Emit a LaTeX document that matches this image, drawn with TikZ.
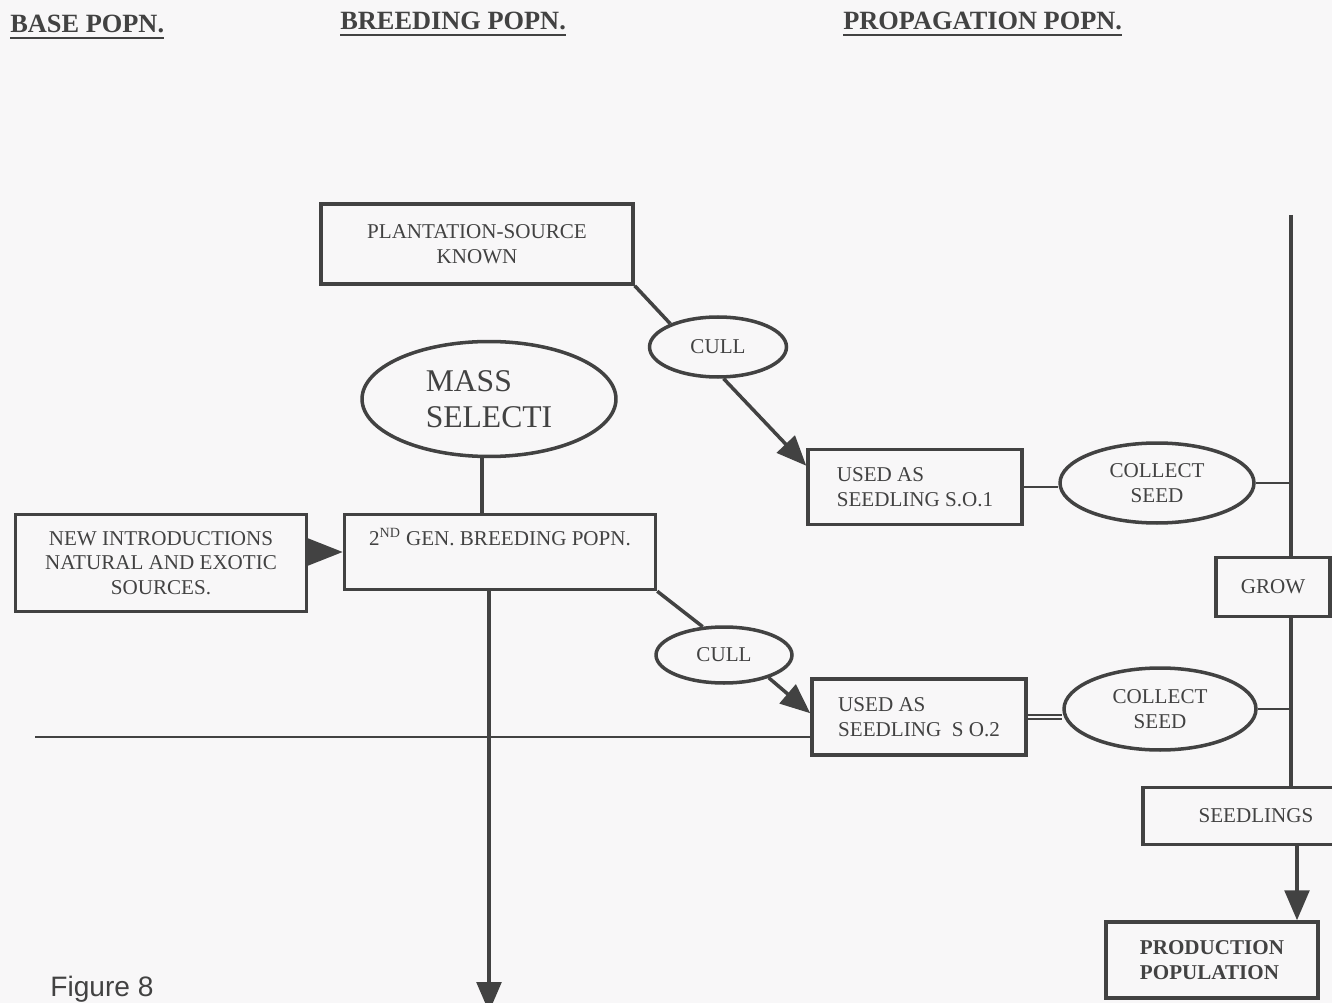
\documentclass[tikz,border=0pt]{standalone}
\usepackage{fontspec}
\setmainfont{Liberation Serif}
\newfontfamily\figfont{Liberation Sans}
\usetikzlibrary{shapes.geometric,arrows.meta,calc}
\definecolor{ink}{HTML}{424242}
\definecolor{paper}{HTML}{F8F7F8}
\tikzset{
  txt/.style={text=ink, font=\fontsize{12}{14}\selectfont},
  box/.style={txt, draw=ink, line width=2pt, rectangle, inner sep=0pt, align=center},
  oval/.style={txt, draw=ink, line width=2pt, ellipse, inner sep=0pt, align=center},
  link/.style={draw=ink, line width=2pt},
  fine link/.style={draw=ink, line width=1pt},
  flow/.style={link, -{Triangle[length=17pt,width=14pt]}},
  bigflow/.style={link, -{Triangle[length=21pt,width=16pt]}},
  heading/.style={inner sep=0pt, anchor=base west, text=ink,
    font=\bfseries\fontsize{15}{17}\selectfont},
  rule/.style={draw=ink, line width=1.2pt},
}
\begin{document}
\begin{tikzpicture}[x=0.02cm,y=-0.02cm]
\fill[paper] (0,0) rectangle (1332,1003);
\clip (0,0) rectangle (1332,1003);

% column headings
\node[heading] (hbase)  at (10,33) {BASE POPN.};
\node[heading] (hbreed) at (340,30) {BREEDING POPN.};
\node[heading] (hprop)  at (843,30) {PROPAGATION POPN.};
\foreach \h in {hbase,hbreed,hprop}
  \draw[rule] ([yshift=-3pt]\h.base west) -- ([yshift=-3pt]\h.base east);

% breeding population
\node[box, minimum width=6.24cm, minimum height=1.6cm] (plant) at (477,244)
  {PLANTATION-SOURCE\\KNOWN};
\node[oval, minimum width=2.74cm, minimum height=1.2cm] (cull1) at (718,347) {CULL};
\node[oval, align=left, minimum width=5.08cm, minimum height=2.3cm,
  font=\fontsize{18}{20.5}\selectfont] (mass) at (489,399) {MASS\\SELECTI};
\node[box, minimum width=6.22cm, minimum height=1.5cm] (gen2) at (500,552) {};
\node[txt, inner sep=0pt] (gen2txt) at (500,537)
  {2\textsuperscript{ND} GEN. BREEDING POPN.};
\node[oval, minimum width=2.72cm, minimum height=1.12cm] (cull2) at (724,655) {CULL};

% base population
\node[box, minimum width=5.82cm, minimum height=1.94cm] (new) at (161,563)
  {NEW INTRODUCTIONS\\NATURAL AND EXOTIC\\SOURCES.};

% propagation population
\node[box, align=left, minimum width=4.28cm, minimum height=1.5cm] (so1) at (915,487)
  {USED AS\\SEEDLING S.O.1};
\node[oval, minimum width=3.88cm, minimum height=1.6cm] (col1) at (1157,483)
  {COLLECT\\SEED};
\node[box, align=left, minimum width=4.28cm, minimum height=1.52cm] (so2) at (919,717)
  {USED AS\\SEEDLING \ S O.2};
\node[oval, minimum width=3.84cm, minimum height=1.64cm] (col2) at (1160,709)
  {COLLECT\\SEED};
\node[box, minimum width=2.28cm, minimum height=1.18cm] (grow) at (1273,587) {GROW};
\node[box, minimum width=4.52cm, minimum height=1.14cm] (seed) at (1256,816) {SEEDLINGS};
\node[box, align=left, minimum width=4.24cm, minimum height=1.52cm,
  font=\bfseries\fontsize{12}{14}\selectfont] (prod) at (1212,960)
  {PRODUCTION\\POPULATION};

\node[inner sep=0pt, anchor=base west, text=ink, font=\figfont\fontsize{16}{18}\selectfont]
  (fig) at (50,996) {Figure 8};

% free ends of connectors
\coordinate (vtop) at (1291,215);
\coordinate (px) at (1297,0);
\coordinate (lft) at (35,737);
\coordinate (bot) at (489,1012);
\coordinate (tip1) at ($(so1.north west)+(0,18)$);
\coordinate (tip2) at ($(so2.north west)+(0,36)$);

% connectors
\draw[link] (plant.south east) -- (cull1.154);
\draw[flow] (cull1.-80) -- (tip1);
\draw[link] (gen2.south east) -- (cull2.127);
\draw[flow] (cull2.-27) -- (tip2);
\draw[link] ([xshift=-7*0.02cm]mass.south) -- ([xshift=-7*0.02cm]mass.south |- gen2.north);
\draw[bigflow] (new.east |- gen2.west) -- (gen2.west);
\draw[flow] (gen2.south -| bot) -- (bot);
\draw[fine link] (so1.east) -- (so1.east -| col1.west);
\draw[fine link, double=paper, double distance=1.6pt, line width=0.9pt]
  (so2.east) -- (so2.east -| col2.west);
\draw[link, line width=1.4pt] (lft) -- (lft -| so2.west);
\draw[fine link] (col1.east) -- (col1.east -| vtop);
\draw[fine link] (col2.east) -- (col2.east -| vtop);
\draw[link] (vtop) -- (vtop |- grow.north);
\draw[link] (vtop |- grow.south) -- (vtop |- seed.north);
\draw[flow] (px |- seed.south) -- (px |- prod.north);
\end{tikzpicture}
\end{document}
